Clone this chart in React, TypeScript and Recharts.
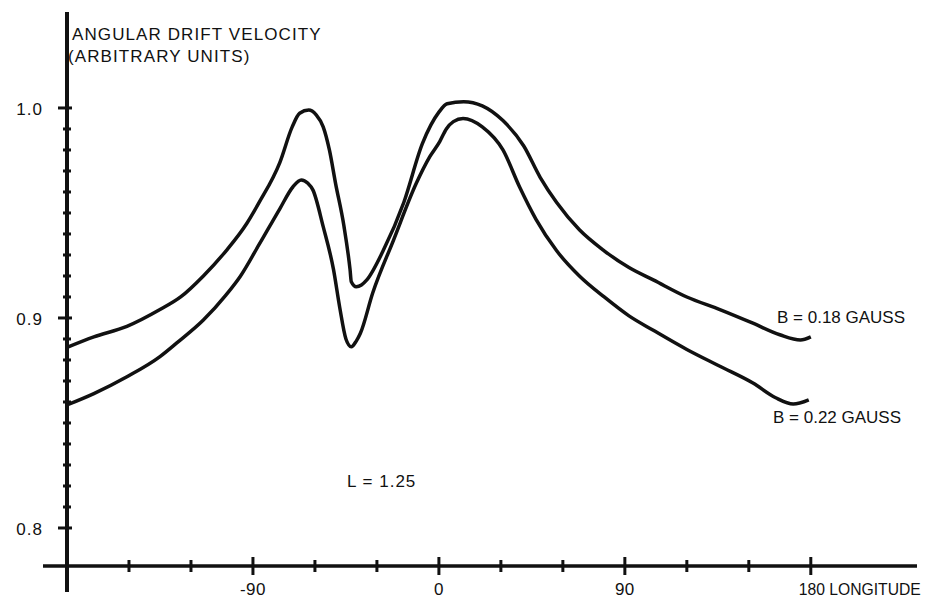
import React from "react";
import { LineChart, Line, XAxis, YAxis } from "recharts";

// Longitude (deg) and angular drift velocity (arbitrary units)
const lon18 = [-180, -167, -151, -135, -125, -114, -103, -93, -87, -77, -71, -67.4, -63, -59.4, -56, -53, -50, -46, -43, -42.4, -40, -37.5, -35, -27, -17, -8, 0, 4, 12, 21, 31, 41, 49, 57, 68, 80, 92, 104, 120, 136, 152, 165, 175, 180];
const val18 = [0.886, 0.891, 0.896, 0.904, 0.91, 0.92, 0.932, 0.945, 0.955, 0.974, 0.991, 0.9975, 0.999, 0.9967, 0.991, 0.98, 0.964, 0.944, 0.923, 0.9173, 0.9149, 0.9157, 0.918, 0.932, 0.955, 0.983, 0.998, 1.002, 1.003, 1.001, 0.994, 0.982, 0.967, 0.955, 0.942, 0.932, 0.924, 0.918, 0.91, 0.904, 0.8975, 0.892, 0.8895, 0.891];

const lon22 = [-180, -167, -151, -135, -127, -114, -103, -96, -87, -77, -70.6, -66.6, -63.4, -61, -56, -51, -48, -45, -42.4, -40, -38, -32, -22, -11, -4.4, 0.4, 3.6, 7, 11.7, 21, 31, 39, 47, 57, 68, 80, 92, 104, 120, 136, 152, 163, 171.5, 179];
const val22 = [0.8586, 0.864, 0.872, 0.8816, 0.888, 0.899, 0.911, 0.92, 0.935, 0.952, 0.9625, 0.9657, 0.9641, 0.961, 0.9435, 0.923, 0.905, 0.89, 0.8863, 0.889, 0.8927, 0.912, 0.937, 0.964, 0.9768, 0.984, 0.99, 0.9935, 0.995, 0.991, 0.98, 0.9625, 0.947, 0.932, 0.92, 0.91, 0.901, 0.894, 0.885, 0.877, 0.869, 0.862, 0.859, 0.861];

const xTicks = [-180, -150, -120, -90, -60, -30, 0, 30, 60, 90, 120, 150, 180];
const xLabelValues = [-90, 0, 90, 180];
const xLabels = ["-90", "0", "90", "180 LONGITUDE"];

const yTicks = [0.8, 0.81, 0.82, 0.83, 0.84, 0.85, 0.86, 0.87, 0.88, 0.89, 0.9, 0.91, 0.92, 0.93, 0.94, 0.95, 0.96, 0.97, 0.98, 0.99, 1.0];
const yLabelValues = [0.8, 0.9, 1.0];
const yLabels = ["0.8", "0.9", "1.0"];

const titleLines = ["ANGULAR DRIFT VELOCITY", "(ARBITRARY UNITS)"];
const seriesNames = ["B = 0.18 GAUSS", "B = 0.22 GAUSS"];
const paramNote = "L = 1.25";

const data18 = lon18.map((lon, i) => ({ lon, v: val18[i] }));
const data22 = lon22.map((lon, i) => ({ lon, v: val22[i] }));

const FONT = "'Liberation Sans', Arial, sans-serif";
const INK = "#111";

const findIdx = (arr: number[], v: number) => arr.findIndex((a) => Math.abs(a - v) < 1e-6);

const XTick = (props: any) => {
  const { x, y, payload } = props;
  const v = payload.value;
  const li = findIdx(xLabelValues, v);
  const h = li >= 0 ? 9 : 6;
  const isLast = v === 180;
  return (
    <g>
      {v === -180 ? (
        <>
          <line x1={x} x2={x} y1={y} y2={y + 26} stroke={INK} strokeWidth={4} />
          <line x1={x - 24} x2={x} y1={y} y2={y} stroke={INK} strokeWidth={3.5} />
        </>
      ) : (
        <line x1={x} x2={x} y1={y - h} y2={y + h} stroke={INK} strokeWidth={3} />
      )}
      {li >= 0 && (
        <text
          x={isLast ? x - 12 : x}
          y={y + 29}
          textAnchor={isLast ? "start" : "middle"}
          fontFamily={FONT}
          fontSize={17}
          letterSpacing={isLast ? 0 : 0.5}
          textLength={isLast ? 122 : undefined}
          lengthAdjust={isLast ? "spacingAndGlyphs" : undefined}
          fill={INK}
        >
          {xLabels[li]}
        </text>
      )}
    </g>
  );
};

const YTick = (props: any) => {
  const { x, y, payload } = props;
  const v = payload.value;
  const li = findIdx(yLabelValues, v);
  return (
    <g>
      <line x1={x - (li >= 0 ? 9 : 4)} x2={x + (li >= 0 ? 5 : 4)} y1={y} y2={y} stroke={INK} strokeWidth={3} />
      {li >= 0 && (
        <text x={x - 24} y={y + 7} textAnchor="end" fontFamily={FONT} fontSize={17} letterSpacing={1} fill={INK}>
          {yLabels[li]}
        </text>
      )}
    </g>
  );
};

const txt = { fontFamily: FONT, fontSize: 17, fill: INK } as const;

export default function App() {
  return (
    <div style={{ position: "absolute", left: 0, top: 0, width: 933, height: 598, background: "#fff" }}>
      <LineChart width={933} height={598} margin={{ top: 12, right: 16, bottom: 0, left: 7 }}>
        <XAxis
          dataKey="lon"
          type="number"
          domain={[-180, 231.4]}
          allowDataOverflow
          ticks={xTicks}
          interval={0}
          tick={<XTick />}
          tickLine={false}
          tickSize={0}
          tickMargin={0}
          height={32}
          axisLine={{ stroke: INK, strokeWidth: 3.5 }}
        />
        <YAxis
          type="number"
          domain={[0.7819, 1.0457]}
          allowDataOverflow
          ticks={yTicks}
          interval={0}
          tick={<YTick />}
          tickLine={false}
          tickSize={0}
          tickMargin={0}
          width={60}
          axisLine={{ stroke: INK, strokeWidth: 4 }}
        />
        <Line data={data18} dataKey="v" type="monotone" stroke={INK} strokeWidth={3.5} dot={false} isAnimationActive={false} />
        <Line data={data22} dataKey="v" type="monotone" stroke={INK} strokeWidth={3.5} dot={false} isAnimationActive={false} />
        <text x={72} y={40} {...txt} letterSpacing={1.1}>{titleLines[0]}</text>
        <text x={68} y={62} {...txt} letterSpacing={1.1}>{titleLines[1]}</text>
        <text x={777} y={323} {...txt}>{seriesNames[0]}</text>
        <text x={773} y={423} {...txt}>{seriesNames[1]}</text>
        <text x={347} y={487} {...txt} letterSpacing={1}>{paramNote}</text>
      </LineChart>
    </div>
  );
}
